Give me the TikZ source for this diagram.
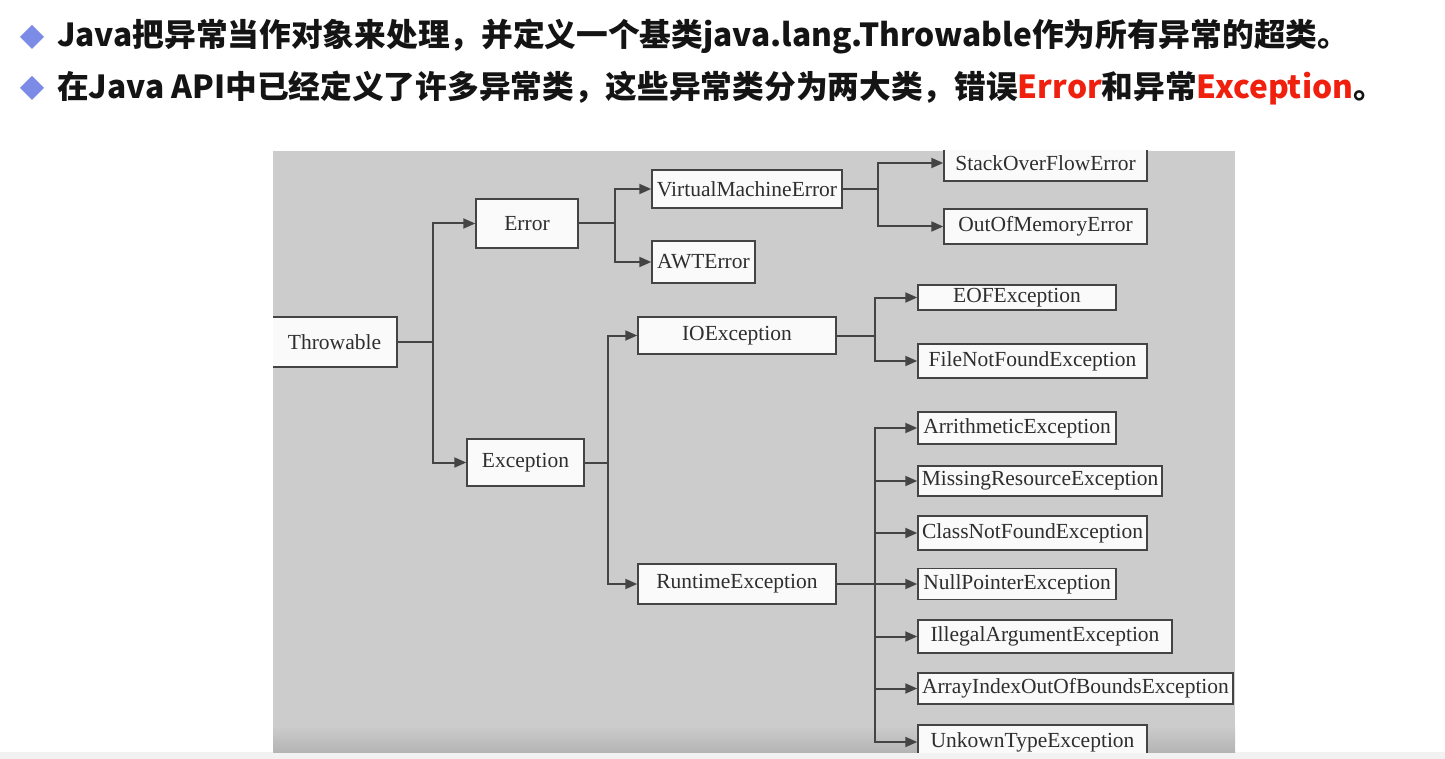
\documentclass[tikz,border=0pt]{standalone}
\usepackage{fontspec}
\setmainfont{Liberation Serif}
\newfontfamily\cjk{Noto Sans CJK SC}
\usetikzlibrary{arrows.meta}
\definecolor{panel}{HTML}{CCCCCC}
\definecolor{panelb}{HTML}{B4B4B4}
\definecolor{lnc}{HTML}{444444}
\definecolor{boxc}{HTML}{FAFAFA}
\definecolor{txt}{HTML}{2E2E2E}
\definecolor{bul}{HTML}{7B8BE6}
\definecolor{redt}{HTML}{F0200F}
\definecolor{hdr}{HTML}{141414}
\begin{document}
\begin{tikzpicture}[x=1pt,y=-1pt,
  box/.style={draw=lnc, line width=1.5pt, fill=boxc, text=txt, inner sep=0pt,
    font=\fontsize{21.5}{24}\selectfont},
  hdrtext/.style={anchor=west, inner sep=0pt, text=hdr,
    font=\cjk\bfseries\fontsize{31.7}{36}\selectfont},
  wire/.style={draw=lnc, line width=2pt},
  conn/.style={wire, -{Triangle[length=12pt,width=10pt]}}]
\useasboundingbox (0,0) rectangle (1445,759);
\fill[white] (0,0) rectangle (1445,759);
\fill[black!5] (0,752) rectangle (1445,759);
% header
\fill[bul] (32,25) -- (44,37) -- (32,49) -- (20,37) -- cycle;
\fill[bul] (32,76) -- (44,88) -- (32,100) -- (20,88) -- cycle;
\node[hdrtext] (h1) at (57,37) {Java把异常当作对象来处理，并定义一个基类java.lang.Throwable作为所有异常的超类。};
\node[hdrtext] (h2) at (57,88) {在Java API中已经定义了许多异常类，这些异常类分为两大类，错误{\color{redt}Error}和异常{\color{redt}Exception}。};
% panel
\fill[panel] (273,151) rectangle (1235,752);
\shade[top color=panel, bottom color=panelb] (273,726) rectangle (1235,752);
\begin{scope}
\clip (273,151) rectangle (1235,752);
\node[box, minimum width=125pt, minimum height=50pt] (thr) at (334.5,342) {Throwable};
\node[box, minimum width=102pt, minimum height=49pt] (err) at (527,223.5) {Error};
\node[box, minimum width=117pt, minimum height=47pt] (exc) at (525.5,462.5) {Exception};
\node[box, minimum width=190pt, minimum height=38pt] (vme) at (747,189) {VirtualMachineError};
\node[box, minimum width=103pt, minimum height=42pt] (awt) at (703.5,262) {AWTError};
\node[box, minimum width=198pt, minimum height=37pt] (ioe) at (737,335.5) {IOException};
\node[box, minimum width=198pt, minimum height=40pt] (rte) at (737,584) {RuntimeException};
\node[box, minimum width=203pt, minimum height=36pt] (sof) at (1045.5,163) {StackOverFlowError};
\node[box, minimum width=203pt, minimum height=35pt] (oom) at (1045.5,226.5) {OutOfMemoryError};
\node[box, minimum width=198pt, minimum height=25pt] (eof) at (1017,297.5) {EOFException};
\node[box, minimum width=229pt, minimum height=34pt] (fnf) at (1032.5,361) {FileNotFoundException};
\node[box, minimum width=198pt, minimum height=32pt] (ari) at (1017,428) {ArrithmeticException};
\node[box, minimum width=244pt, minimum height=30pt] (mis) at (1040,481) {MissingResourceException};
\node[box, minimum width=229pt, minimum height=34pt] (cnf) at (1032.5,533) {ClassNotFoundException};
\node[box, minimum width=198pt, minimum height=31pt] (npe) at (1017,584) {NullPointerException};
\node[box, minimum width=254pt, minimum height=33pt] (iae) at (1045,636.5) {IllegalArgumentException};
\node[box, minimum width=315pt, minimum height=31pt] (aio) at (1075.5,688.5) {ArrayIndexOutOfBoundsException};
\node[box, minimum width=229pt, minimum height=34pt] (ukt) at (1032.5,742) {UnkownTypeException};
% connectors
\coordinate (b1) at (433,342);
\draw[wire] (thr.east) -- (b1);
\draw[conn] (b1) |- (err.west);
\draw[conn] (b1) |- (exc.west);
\coordinate (b2) at (615,223.5);
\draw[wire] (err.east) -- (b2);
\draw[conn] (b2) |- (vme.west);
\draw[conn] (b2) |- (awt.west);
\coordinate (b3) at (878,189);
\draw[wire] (vme.east) -- (b3);
\draw[conn] (b3) |- (sof.west);
\draw[conn] (b3) |- (oom.west);
\coordinate (b4) at (608,462.5);
\draw[wire] (exc.east) -- (b4);
\draw[conn] (b4) |- (ioe.west);
\draw[conn] (b4) |- (rte.west);
\coordinate (b5) at (875,335.5);
\draw[wire] (ioe.east) -- (b5);
\draw[conn] (b5) |- (eof.west);
\draw[conn] (b5) |- (fnf.west);
\coordinate (b6) at (875,584);
\draw[wire] (rte.east) -- (b6);
\foreach \n in {ari,mis,cnf,npe,iae,aio,ukt} {\draw[conn] (b6) |- (\n.west);}
\end{scope}
\end{tikzpicture}
\end{document}
